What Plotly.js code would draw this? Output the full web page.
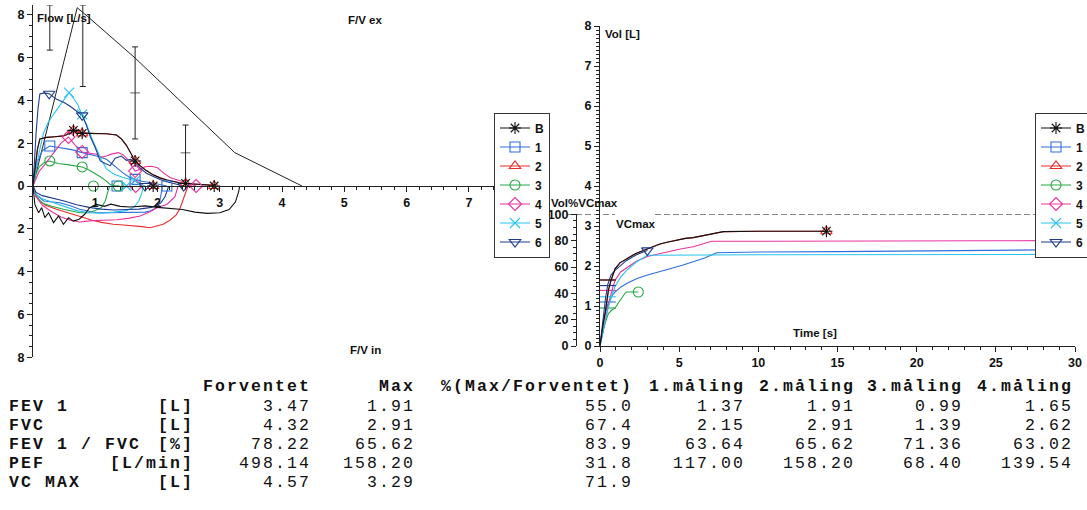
<!DOCTYPE html>
<html><head><meta charset="utf-8">
<script src="https://cdn.plot.ly/plotly-3.0.1.min.js"></script>
<style>
html,body{margin:0;padding:0;background:#fff}
#chart{width:1087px;height:510px}
text.annotation-text[style*="Liberation Mono"]{letter-spacing:2.1px}
</style>
</head><body><div id="chart"></div>
<script>
// ================= DATA =================
// Flow-volume: predicted curve and reference bars
const predVol  = [0, 0.71, 0.87, 1.64, 3.24, 4.32];
const predFlow = [0, 8.33, 7.94, 5.98, 1.56, 0];
const refVol   = [0.27, 0.8, 1.64, 2.45];
const refFlow  = [7.4, 6.55, 4.35, 1.55];
const refErr   = [1.05, 1.9, 2.15, 1.3];
const refTick  = [0, 0, 1, 1];

// Expiratory curves (volume L, flow L/s)
const expVolB  = [0,0.03,0.07,0.11,0.22,0.35,0.49,0.58,0.65,0.72,0.79,0.9,1.02,1.18,1.34,1.42,1.5,1.57,1.64,1.72,1.82,1.93,2.04,2.15,2.25,2.35,2.45,2.58,2.7,2.8,2.91];
const expFlowB = [0,0.8,1.7,2.2,2.27,2.3,2.34,2.45,2.6,2.52,2.46,2.46,2.46,2.44,2.38,2.2,1.9,1.5,1.17,0.95,0.72,0.52,0.38,0.28,0.2,0.15,0.12,0.09,0.07,0.05,0.03];
const expVol1  = [0,0.03,0.08,0.15,0.27,0.38,0.49,0.62,0.79,0.9,1.02,1.18,1.26,1.34,1.45,1.56,1.64,1.75,1.9,2.04,2.15];
const expFlow1 = [0,0.6,1.2,1.65,1.87,1.82,1.79,1.7,1.56,1.5,1.4,1.25,1.05,0.86,0.6,0.39,0.31,0.22,0.15,0.08,0];
const expVol2  = [0,0.03,0.07,0.11,0.22,0.35,0.49,0.58,0.65,0.72,0.79,0.9,1.02,1.18,1.34,1.42,1.5,1.57,1.64,1.72,1.82,1.93,2.04,2.15,2.25,2.35,2.45,2.58,2.7,2.8,2.91];
const expFlow2 = [0,0.8,1.7,2.2,2.27,2.3,2.34,2.45,2.6,2.52,2.46,2.46,2.46,2.44,2.38,2.2,1.9,1.5,1.17,0.95,0.72,0.52,0.38,0.28,0.2,0.15,0.12,0.09,0.07,0.05,0.03];
const expVol3  = [0,0.04,0.1,0.18,0.27,0.4,0.55,0.68,0.79,0.9,1.02,1.1,1.18,1.24,1.32,1.39];
const expFlow3 = [0,0.5,0.9,1.1,1.17,1.05,1.0,0.95,0.89,0.75,0.55,0.4,0.23,0.06,0.02,0];
const expVol4  = [0,0.05,0.1,0.17,0.25,0.33,0.45,0.57,0.68,0.79,0.9,1.02,1.1,1.18,1.27,1.37,1.45,1.5,1.57,1.64,1.72,1.8,1.9,2.0,2.1,2.2,2.3,2.4,2.5,2.62];
const expFlow4 = [0,0.4,0.7,0.93,1.25,1.56,2.0,2.29,1.9,1.59,1.55,1.48,1.35,1.4,1.5,1.56,1.45,1.3,1.0,0.7,0.78,0.9,0.92,0.85,0.6,0.4,0.3,0.2,0.12,0];
const expVol5  = [0,0.04,0.1,0.17,0.25,0.33,0.42,0.49,0.58,0.65,0.72,0.79,0.87,0.95,1.03,1.1,1.18,1.3,1.45,1.64,1.72,1.8];
const expFlow5 = [0,0.7,1.6,2.49,3.0,3.35,3.7,3.97,4.36,4.1,3.8,3.3,2.8,2.2,1.65,1.2,0.8,0.55,0.4,0.25,0.12,0];
const expVol6  = [0,0.02,0.05,0.08,0.11,0.18,0.26,0.38,0.5,0.59,0.7,0.79,0.85,0.92,1.0,1.08,1.16,1.24,1.32,1.42,1.5,1.57,1.64,1.72,1.82,1.92,2.04,2.15,2.3,2.42];
const expFlow6 = [0,1.2,2.5,3.6,4.3,4.35,4.31,4.05,3.9,3.74,3.5,3.3,2.9,2.3,1.79,1.17,1.05,0.95,1.3,1.4,1.2,1.25,1.1,0.85,0.6,0.45,0.3,0.2,0.1,0];

// Inspiratory curves (drawn below the axis)
const insVolB  = [0,0.03,0.09,0.14,0.19,0.25,0.33,0.41,0.49,0.57,0.65,0.74,0.83,0.91,1.02,1.15,1.25,1.4,1.56,1.8,2.0,2.2,2.4,2.6,2.8,3.0,3.15,3.25,3.3,3.32];
const insFlowB = [0,-0.86,-1.25,-1.01,-1.48,-1.25,-1.71,-1.4,-1.79,-1.48,-1.64,-1.55,-1.32,-1.01,-0.86,-0.95,-0.85,-0.95,-0.98,-0.93,-1.0,-1.05,-1.1,-1.22,-1.28,-1.25,-1.1,-0.75,-0.3,0];
const insVol1  = [0,0.05,0.17,0.3,0.43,0.6,0.75,0.9,1.02,1.2,1.34,1.5,1.66,1.8,1.88,1.96,2.01,2.05,2.08];
const insFlow1 = [0,-0.4,-0.7,-0.74,-0.78,-0.92,-1.09,-1.18,-1.25,-1.25,-1.25,-1.24,-1.25,-1.22,-1.17,-1.05,-0.93,-0.5,0];
const insVol2  = [0,0.05,0.11,0.2,0.38,0.5,0.65,0.8,0.95,1.1,1.29,1.45,1.6,1.75,1.88,2.0,2.09,2.2,2.3,2.36,2.42,2.46,2.49];
const insFlow2 = [0,-0.45,-0.7,-0.9,-1.09,-1.2,-1.32,-1.45,-1.6,-1.7,-1.79,-1.82,-1.85,-1.9,-1.95,-1.85,-1.79,-1.6,-1.35,-1.05,-0.6,-0.25,0];
const insVol3  = [0,0.05,0.15,0.3,0.49,0.65,0.75,0.89,1.0,1.1,1.16,1.2,1.23];
const insFlow3 = [0,-0.5,-0.8,-0.95,-1.09,-1.2,-1.25,-1.25,-1.15,-1.01,-0.7,-0.3,0];
const insVol4  = [0,0.05,0.15,0.3,0.45,0.6,0.75,0.95,1.15,1.35,1.55,1.72,1.88,2.0,2.15,2.28,2.33];
const insFlow4 = [0,-0.5,-0.9,-1.2,-1.45,-1.6,-1.68,-1.62,-1.6,-1.58,-1.5,-1.4,-1.2,-1.0,-0.86,-0.5,0];
const insVol5  = [0,0.05,0.15,0.3,0.5,0.7,0.9,1.1,1.3,1.5,1.62,1.7,1.75,1.77];
const insFlow5 = [0,-0.4,-0.6,-0.75,-0.95,-1.15,-1.25,-1.27,-1.22,-1.15,-1.0,-0.7,-0.3,0];
const insVol6  = [0,0.05,0.15,0.3,0.5,0.7,0.9,1.1,1.3,1.5,1.7,1.9,2.05,2.12,2.16,2.18];
const insFlow6 = [0,-0.3,-0.45,-0.55,-0.7,-0.88,-1.0,-1.08,-1.12,-1.1,-1.08,-1.0,-0.8,-0.5,-0.2,0];

// Flow-volume markers
const mkVolB = [0.65,0.79,1.64,2.45,1.93,2.91], mkFlowB = [2.6,2.46,1.17,0.12,0,0];
const mkVol1 = [0.27,0.79,1.64,1.35,2.15],      mkFlow1 = [1.87,1.56,0.31,0,0];
const mkVol2 = [0.65,0.79,1.64,2.45,1.93,2.91], mkFlow2 = [2.6,2.46,1.17,0.12,0,0];
const mkVol3 = [0.27,0.79,0.97,1.37],           mkFlow3 = [1.17,0.89,0,0];
const mkVol4 = [0.57,0.79,1.64,1.65,2.62],      mkFlow4 = [2.29,1.59,0.7,0,0];
const mkVol5 = [0.58,0.79,1.64,1.5],            mkFlow5 = [4.36,3.35,0.25,0];
const mkVol6 = [0.26,0.79,1.8,2.42],            mkFlow6 = [4.31,3.3,0,0];

// Volume-time curves (time s, volume L)
const vtTB = [0,0.1,0.2,0.32,0.42,0.53,0.68,0.84,0.95,1.26,1.68,2.2,2.74,3.3,3.79,4.3,4.84,5.4,5.89,6.4,6.95,7.4,7.79,10,12,14.3];
const vtVB = [0,0.3,0.55,0.81,1.1,1.39,1.62,1.81,1.93,2.08,2.18,2.3,2.39,2.47,2.55,2.6,2.65,2.69,2.71,2.75,2.8,2.84,2.86,2.87,2.87,2.87];
const vtT1 = [0,0.1,0.25,0.5,0.75,0.95,1.3,1.68,2.3,2.95,3.7,4.42,5.2,5.89,6.6,7.37,10,15,20,25,30];
const vtV1 = [0,0.3,0.7,1.05,1.25,1.35,1.47,1.56,1.68,1.77,1.86,1.93,2.02,2.1,2.2,2.33,2.35,2.36,2.38,2.4,2.41];
const vtT2 = [0,0.1,0.2,0.32,0.42,0.53,0.68,0.84,0.95,1.26,1.68,2.2,2.74,3.3,3.79,4.3,4.84,5.4,5.89,6.4,6.95,7.4,7.79,10,12,14.3];
const vtV2 = [0,0.3,0.55,0.81,1.1,1.39,1.62,1.81,1.93,2.08,2.18,2.3,2.39,2.47,2.55,2.6,2.65,2.69,2.71,2.75,2.8,2.84,2.86,2.87,2.87,2.87];
const vtT3 = [0,0.1,0.21,0.35,0.53,0.75,0.95,1.2,1.45,1.6,1.68,2.42];
const vtV3 = [0,0.2,0.39,0.6,0.81,0.9,0.95,1.1,1.25,1.33,1.35,1.35];
const vtT4 = [0,0.1,0.25,0.4,0.6,0.8,0.95,1.3,1.68,2.3,2.99,4,5,5.89,6.5,7.05,10,15,20,25,30];
const vtV4 = [0,0.2,0.5,0.8,1.15,1.45,1.64,1.85,1.96,2.12,2.24,2.34,2.42,2.48,2.55,2.62,2.62,2.62,2.63,2.63,2.64];
const vtT5 = [0,0.1,0.25,0.45,0.7,0.95,1.3,1.68,2.3,2.99,10,20,30];
const vtV5 = [0,0.2,0.5,0.85,1.2,1.49,1.72,1.89,2.1,2.27,2.28,2.28,2.29];
const vtT6 = [0,0.1,0.2,0.35,0.5,0.7,0.95,1.3,1.68,2.3,2.99];
const vtV6 = [0,0.35,0.75,1.2,1.55,1.78,1.89,2.02,2.14,2.28,2.39];
// one-second volume levels (short horizontal marks at the start)
const FEV1_TIME = 1;
const fev1LevelB = 1.65, fev1Level1 = 1.10, fev1Level2 = 1.65, fev1Level3 = 0.95, fev1Level4 = 1.39, fev1Level5 = 1.23, fev1Level6 = 1.51;
// volume-time end markers
const vtMkTB = [14.3], vtMkVB = [2.87];
const vtMkT2 = [14.3], vtMkV2 = [2.87];
const vtMkT3 = [2.42], vtMkV3 = [1.35];
const vtMkT6 = [2.99], vtMkV6 = [2.39];
const VCMAX_PCT = 100;

// Table
const tblRows    = ['FEV 1','FVC','FEV 1 / FVC','PEF','VC MAX'];
const tblUnits   = ['[L]','[L]','[%]','[L/min]','[L]'];
const tblHeaders = ['Forventet','Max','%(Max/Forventet)','1.måling','2.måling','3.måling','4.måling'];
const colForventet = [3.47,4.32,78.22,498.14,4.57];
const colMax       = [1.91,2.91,65.62,158.20,3.29];
const colPct       = [55.0,67.4,83.9,31.8,71.9];
const colM1        = [1.37,2.15,63.64,117.00,null];
const colM2        = [1.91,2.91,65.62,158.20,null];
const colM3        = [0.99,1.39,71.36,68.40,null];
const colM4        = [1.65,2.62,63.02,139.54,null];
const colDecimals  = [2,2,1,2,2,2,2];

const legendNames = ['B','1','2','3','4','5','6'];
const flowTickVals = [-8,-6,-4,-2,0,2,4,6,8];
const flowTickText = ['8','6','4','2','0','2','4','6','8'];
const volTickVals  = [1,2,3,4,5,6,7];

// ================= STYLE / LAYOUT =================
const W = 1087, H = 510;
const fx = p => p / W;
const fy = p => 1 - p / H;

const style = {
  'B': {color:'#111111', symbol:'asterisk-open'},
  '1': {color:'#2f6fdc', symbol:'square-open'},
  '2': {color:'#ee2b2b', symbol:'triangle-up-open'},
  '3': {color:'#27a844', symbol:'circle-open'},
  '4': {color:'#e8339f', symbol:'diamond-open'},
  '5': {color:'#28c3f0', symbol:'x-thin-open'},
  '6': {color:'#1d3b8e', symbol:'triangle-down-open'}
};
const series = {
  'B': {ev:expVolB, ef:expFlowB, iv:insVolB, if:insFlowB, mv:mkVolB, mf:mkFlowB, t:vtTB, v:vtVB, lvl:fev1LevelB, mt:vtMkTB, mvv:vtMkVB},
  '1': {ev:expVol1, ef:expFlow1, iv:insVol1, if:insFlow1, mv:mkVol1, mf:mkFlow1, t:vtT1, v:vtV1, lvl:fev1Level1, mt:[], mvv:[]},
  '2': {ev:expVol2, ef:expFlow2, iv:insVol2, if:insFlow2, mv:mkVol2, mf:mkFlow2, t:vtT2, v:vtV2, lvl:fev1Level2, mt:vtMkT2, mvv:vtMkV2},
  '3': {ev:expVol3, ef:expFlow3, iv:insVol3, if:insFlow3, mv:mkVol3, mf:mkFlow3, t:vtT3, v:vtV3, lvl:fev1Level3, mt:vtMkT3, mvv:vtMkV3},
  '4': {ev:expVol4, ef:expFlow4, iv:insVol4, if:insFlow4, mv:mkVol4, mf:mkFlow4, t:vtT4, v:vtV4, lvl:fev1Level4, mt:[], mvv:[]},
  '5': {ev:expVol5, ef:expFlow5, iv:insVol5, if:insFlow5, mv:mkVol5, mf:mkFlow5, t:vtT5, v:vtV5, lvl:fev1Level5, mt:[], mvv:[]},
  '6': {ev:expVol6, ef:expFlow6, iv:insVol6, if:insFlow6, mv:mkVol6, mf:mkFlow6, t:vtT6, v:vtV6, lvl:fev1Level6, mt:vtMkT6, mvv:vtMkV6}
};
const drawOrder = ['1','2','3','4','5','6','B'];

const traces = [];
traces.push({x:predVol, y:predFlow, xaxis:'x', yaxis:'y', mode:'lines', line:{color:'#222', width:1}, showlegend:false, hoverinfo:'skip'});
traces.push({x:refVol, y:refFlow, xaxis:'x', yaxis:'y', mode:'markers', cliponaxis:false,
  marker:{symbol:'line-ew-open', size:refTick.map(v => v ? 7 : 0), color:'#222', line:{width:1, color:'#222'}},
  error_y:{type:'data', array:refErr, visible:true, color:'#222', thickness:1, width:3},
  showlegend:false, hoverinfo:'skip'});

drawOrder.forEach(k => {
  const s = series[k], st = style[k];
  traces.push({x:s.ev.concat([null], s.iv), y:s.ef.concat([null], s.if), xaxis:'x', yaxis:'y', mode:'lines',
    line:{color:st.color, width:1.1}, showlegend:false, hoverinfo:'skip'});
  traces.push({x:[0, FEV1_TIME, null].concat(s.t), y:[s.lvl, s.lvl, null].concat(s.v), xaxis:'x2', yaxis:'y2', mode:'lines',
    line:{color:st.color, width:1.1}, showlegend:false, hoverinfo:'skip'});
});
drawOrder.forEach(k => {
  const s = series[k], st = style[k];
  traces.push({x:s.mv, y:s.mf, xaxis:'x', yaxis:'y', mode:'markers', cliponaxis:false,
    marker:{symbol:st.symbol, size:10, color:st.color, line:{width:1.1, color:st.color}}, showlegend:false, hoverinfo:'skip'});
  traces.push({x:s.mt, y:s.mvv, xaxis:'x2', yaxis:'y2', mode:'markers', cliponaxis:false,
    marker:{symbol:st.symbol, size:10, color:st.color, line:{width:1.1, color:st.color}}, showlegend:false, hoverinfo:'skip'});
});
traces.push({x:[null], y:[null], xaxis:'x2', yaxis:'y3', mode:'markers', showlegend:false, hoverinfo:'skip'});
['legend','legend2'].forEach(lg => {
  legendNames.forEach(k => {
    const st = style[k];
    traces.push({x:[null], y:[null], xaxis:'x', yaxis:'y', mode:'lines+markers', name:k, legend:lg,
      line:{color:st.color, width:1.1}, marker:{symbol:st.symbol, size:10, color:st.color, line:{width:1.1, color:st.color}}});
  });
});

const FV_ZERO_PX = 186, FV_UNIT_PX = 21.4;
const VT_ZERO_PX = 346, VT_UNIT_PX = 40;
const VC_MAX = colMax[4];

const axisCommon = {showline:true, linecolor:'#222', linewidth:1, ticks:'outside', ticklen:5, tickwidth:1, tickcolor:'#222',
  showgrid:false, zeroline:false, fixedrange:true,
  tickfont:{family:'Liberation Sans, Arial, sans-serif', size:12.5, color:'#111', weight:'bold'}};
const minor = (d) => ({tickmode:'linear', tick0:0, dtick:d, ticklen:3, tickwidth:1, tickcolor:'#222', showgrid:false});

const bold = {family:'Liberation Sans, Arial, sans-serif', size:11.5, color:'#111', weight:'bold'};
const annotations = [
  {text:'Flow [L/s]', x:fx(35), y:fy(18), xanchor:'left', yanchor:'middle', font:bold},
  {text:'F/V ex', x:fx(365), y:fy(20), xanchor:'center', yanchor:'middle', font:bold},
  {text:'F/V in', x:fx(365), y:fy(350), xanchor:'center', yanchor:'middle', font:bold},
  {text:'Vol [L]', x:fx(603), y:fy(34), xanchor:'left', yanchor:'middle', font:bold},
  {text:'Vol%VCmax', x:fx(549), y:fy(203), xanchor:'left', yanchor:'middle', font:bold},
  {text:'VCmax', x:fx(614), y:fy(224), xanchor:'left', yanchor:'middle', font:bold},
  {text:'Time [s]', x:fx(815), y:fy(333), xanchor:'center', yanchor:'middle', font:bold}
];
annotations.forEach(a => { a.xref = 'paper'; a.yref = 'paper'; a.showarrow = false; });

// ---- table ----
const mono = {family:'Liberation Mono, Courier New, monospace', size:16.5, color:'#111'};
const monoB = Object.assign({}, mono, {weight:'bold'});
const colRight = [313, 417, 635, 747, 857, 965, 1075];
const headerY = 386, rowY = [406, 425, 444, 463, 482];
const cols = [colForventet, colMax, colPct, colM1, colM2, colM3, colM4];
function addText(text, x, y, anchor, font) {
  annotations.push({text:text, x:fx(x), y:fy(y), xref:'paper', yref:'paper', xanchor:anchor, yanchor:'middle', showarrow:false, font:font});
}
tblHeaders.forEach((h, j) => addText(h, colRight[j], headerY, 'right', monoB));
tblRows.forEach((r, i) => {
  addText(r, 7, rowY[i], 'left', monoB);
  addText(tblUnits[i], 196, rowY[i], 'right', monoB);
  cols.forEach((c, j) => { if (c[i] !== null) addText(c[i].toFixed(colDecimals[j]), colRight[j], rowY[i], 'right', mono); });
});

const legendCommon = {bgcolor:'#fff', bordercolor:'#333', borderwidth:1, itemwidth:30, tracegroupgap:0,
  font:{family:'Liberation Sans, Arial, sans-serif', size:12, color:'#111', weight:'bold'}, xanchor:'left', yanchor:'middle',
  itemclick:false, itemdoubleclick:false};

const layout = {
  width:W, height:H, paper_bgcolor:'#fff', plot_bgcolor:'rgba(0,0,0,0)',
  margin:{l:0, r:0, t:0, b:0, autoexpand:false},
  showlegend:true,
  xaxis:Object.assign({}, axisCommon, {domain:[fx(33), fx(500)], range:[0, 7.5], anchor:'free', position:fy(FV_ZERO_PX),
    tickmode:'array', tickvals:volTickVals, minor:minor(0.2)}),
  yaxis:Object.assign({}, axisCommon, {domain:[fy(FV_ZERO_PX + 8*FV_UNIT_PX), fy(FV_ZERO_PX - 8.45*FV_UNIT_PX)], range:[-8, 8.45], anchor:'x',
    tickmode:'array', tickvals:flowTickVals, ticktext:flowTickText, minor:minor(0.5)}),
  xaxis2:Object.assign({}, axisCommon, {domain:[fx(600), fx(1075)], range:[0, 30], anchor:'y2', tickmode:'linear', tick0:0, dtick:5, minor:minor(1)}),
  yaxis2:Object.assign({}, axisCommon, {domain:[fy(VT_ZERO_PX), fy(VT_ZERO_PX - 8*VT_UNIT_PX)], range:[0, 8], anchor:'x2', tickmode:'linear', tick0:0, dtick:1, minor:minor(0.1)}),
  yaxis3:Object.assign({}, axisCommon, {domain:[fy(VT_ZERO_PX), fy(VT_ZERO_PX - VC_MAX*VT_UNIT_PX)], range:[0, VCMAX_PCT], anchor:'free', position:fx(576),
    tickmode:'linear', tick0:0, dtick:20, minor:minor(5)}),
  legend:Object.assign({}, legendCommon, {x:fx(494), y:fy(185)}),
  legend2:Object.assign({}, legendCommon, {x:fx(1035), y:fy(185)}),
  annotations:annotations,
  shapes:[
    {type:'line', xref:'paper', yref:'y3', x0:fx(567), x1:fx(615), y0:VCMAX_PCT, y1:VCMAX_PCT, line:{color:'#111', width:1.2, dash:'6px,3px'}},
    {type:'line', xref:'paper', yref:'y3', x0:fx(655), x1:fx(1087), y0:VCMAX_PCT, y1:VCMAX_PCT, line:{color:'#111', width:1.2, dash:'6px,3px'}}
  ]
};

Plotly.newPlot('chart', traces, layout, {displayModeBar:false, staticPlot:true});
</script>
</body></html>
